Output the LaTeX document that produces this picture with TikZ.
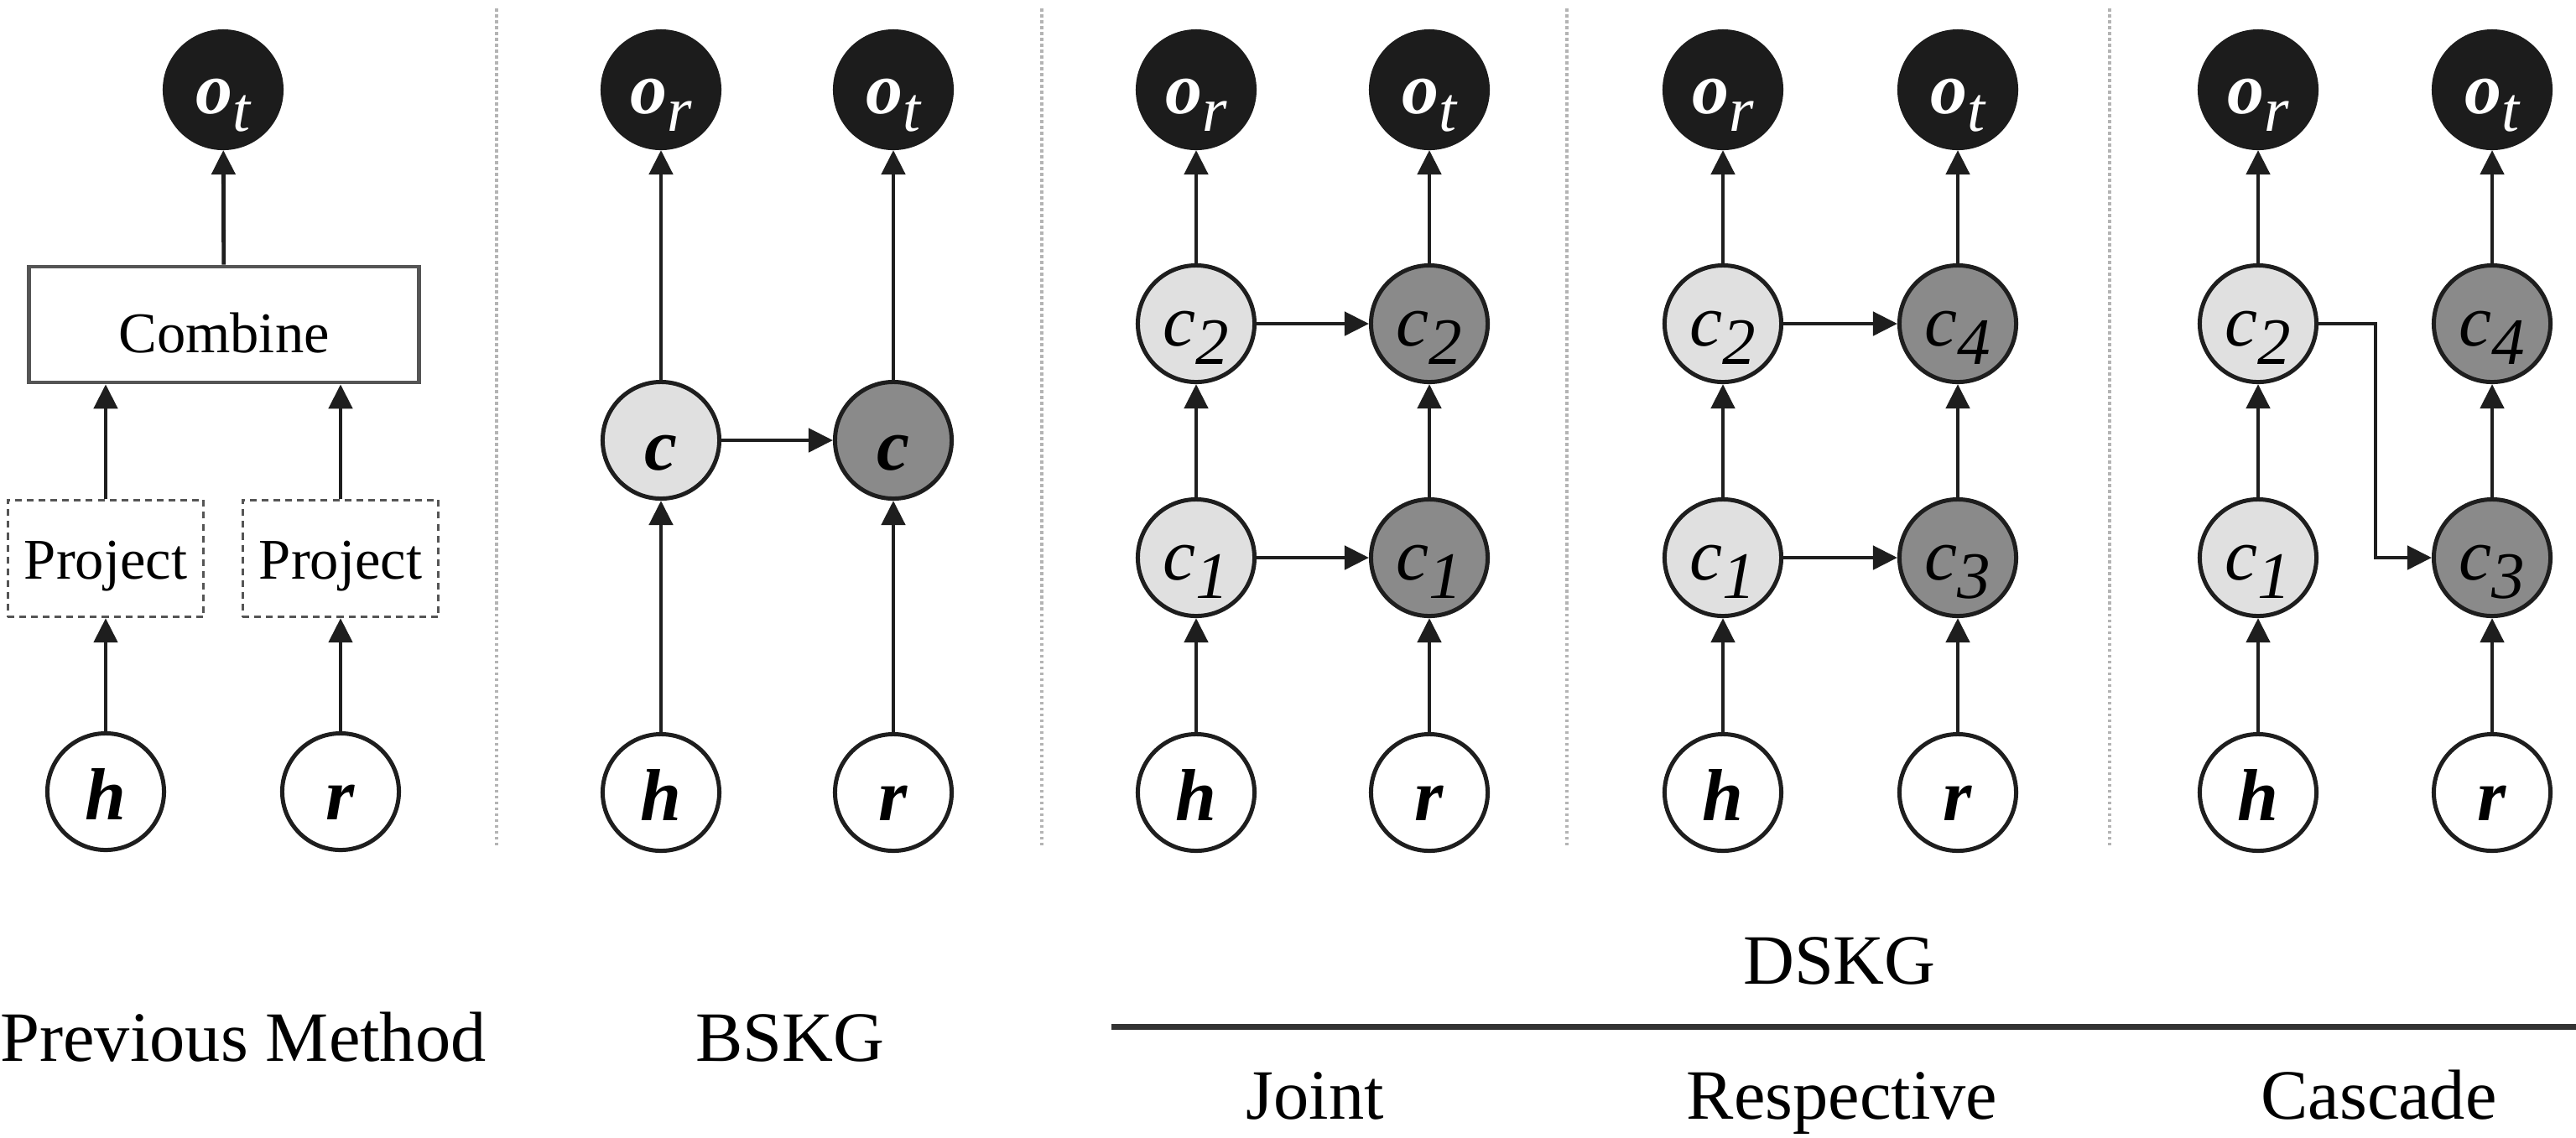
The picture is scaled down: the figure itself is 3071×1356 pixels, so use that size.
\documentclass[tikz,border=0pt]{standalone}
\usepackage{fontspec}
\setmainfont{Liberation Serif}
\usetikzlibrary{arrows.meta}
\definecolor{nodeblack}{HTML}{1C1C1C}
\definecolor{lightfill}{HTML}{E0E0E0}
\definecolor{darkfill}{HTML}{8A8A8A}
\definecolor{linecol}{HTML}{1E1E1E}
\definecolor{sepcol}{HTML}{B4B4B4}
\definecolor{boxcol}{HTML}{555555}
\definecolor{rulecol}{HTML}{333333}
\newcommand{\ovar}[1]{{\bfseries\itshape o}\raisebox{-6pt}{\fontsize{21.5}{21.5}\selectfont\mdseries\itshape #1}}
\newcommand{\cvar}[1]{{\itshape c}\raisebox{-6.5pt}{\fontsize{22.5}{22.5}\selectfont\itshape #1}}
\newcommand{\bvar}[1]{{\bfseries\itshape #1}}
\begin{document}
\begin{tikzpicture}[x=0.01cm,y=-0.01cm,
  every node/.style={font=\fontsize{25}{29}\selectfont},
  vnode/.style={circle,draw=linecol,line width=0.05cm,minimum size=1.39cm,inner sep=0pt,text depth=0pt},
  outnode/.style={vnode,fill=nodeblack,draw=nodeblack,text=white,text height=0.56cm},
  inpnode/.style={vnode,fill=white,text height=0.66cm},
  lightnode/.style={vnode,fill=lightfill,text height=0.52cm},
  darknode/.style={vnode,fill=darkfill,text height=0.52cm},
  conn/.style={line width=0.048cm,draw=linecol,-{Triangle[length=0.29cm,width=0.28cm]}},
  sep/.style={draw=sepcol,line width=0.035cm,dash pattern=on 0.035cm off 0.035cm},
  projbox/.style={draw=boxcol,line width=0.032cm,dash pattern=on 0.08cm off 0.06cm,minimum width=2.33cm,minimum height=1.39cm,inner sep=0pt,font=\fontsize{19.5}{23}\selectfont,text height=0.48cm,text depth=0pt},
  combbox/.style={draw=boxcol,line width=0.045cm,minimum width=4.65cm,minimum height=1.38cm,inner sep=0pt,font=\fontsize{19.5}{23}\selectfont,text height=0.66cm,text depth=0pt},
  lbl/.style={anchor=base,inner sep=0pt,font=\fontsize{24}{29}\selectfont},
]
\useasboundingbox (0,0) rectangle (3071,1356);

% separators
\draw[sep] (592,10) -- (592,1010);
\draw[sep] (1242,10) -- (1242,1010);
\draw[sep] (1868,10) -- (1868,1010);
\draw[sep] (2515,10) -- (2515,1010);

% ---------- Previous method ----------
\node[outnode] (pot) at (266,107) {\ovar{t}};
\node[combbox] (comb) at (267,387) {Combine};
\node[projbox] (pp1) at (126,666) {Project};
\node[projbox] (pp2) at (406,666) {Project};
\node[inpnode] (ph) at (126,944) {\bvar{h}};
\node[inpnode] (pr) at (406,944) {\bvar{r}};
\draw[conn] (ph) -- (pp1);
\draw[conn] (pr) -- (pp2);
\draw[conn] (pp1.north) -- (pp1.north |- comb.south);
\draw[conn] (pp2.north) -- (pp2.north |- comb.south);
\draw[conn] (comb) -- (pot);

% ---------- BSKG ----------
\node[outnode] (bor) at (788,107) {\ovar{r}};
\node[outnode] (bot) at (1065,107) {\ovar{t}};
\node[lightnode,text height=0.7cm] (bcl) at (788,525) {\bvar{c}};
\node[darknode,text height=0.7cm] (bcd) at (1065,525) {\bvar{c}};
\node[inpnode] (bh) at (788,945) {\bvar{h}};
\node[inpnode] (br) at (1065,945) {\bvar{r}};
\draw[conn] (bh) -- (bcl);
\draw[conn] (br) -- (bcd);
\draw[conn] (bcl) -- (bor);
\draw[conn] (bcd) -- (bot);
\draw[conn] (bcl) -- (bcd);

% ---------- Joint ----------
\node[outnode] (jor) at (1426,107) {\ovar{r}};
\node[outnode] (jot) at (1704,107) {\ovar{t}};
\node[lightnode] (jc2l) at (1426,386) {\cvar{2}};
\node[darknode] (jc2d) at (1704,386) {\cvar{2}};
\node[lightnode] (jc1l) at (1426,665) {\cvar{1}};
\node[darknode] (jc1d) at (1704,665) {\cvar{1}};
\node[inpnode] (jh) at (1426,945) {\bvar{h}};
\node[inpnode] (jr) at (1704,945) {\bvar{r}};
\draw[conn] (jh) -- (jc1l);
\draw[conn] (jr) -- (jc1d);
\draw[conn] (jc1l) -- (jc2l);
\draw[conn] (jc1d) -- (jc2d);
\draw[conn] (jc2l) -- (jor);
\draw[conn] (jc2d) -- (jot);
\draw[conn] (jc1l) -- (jc1d);
\draw[conn] (jc2l) -- (jc2d);

% ---------- Respective ----------
\node[outnode] (ror) at (2054,107) {\ovar{r}};
\node[outnode] (rot) at (2334,107) {\ovar{t}};
\node[lightnode] (rc2) at (2054,386) {\cvar{2}};
\node[darknode] (rc4) at (2334,386) {\cvar{4}};
\node[lightnode] (rc1) at (2054,665) {\cvar{1}};
\node[darknode] (rc3) at (2334,665) {\cvar{3}};
\node[inpnode] (rh) at (2054,945) {\bvar{h}};
\node[inpnode] (rr) at (2334,945) {\bvar{r}};
\draw[conn] (rh) -- (rc1);
\draw[conn] (rr) -- (rc3);
\draw[conn] (rc1) -- (rc2);
\draw[conn] (rc3) -- (rc4);
\draw[conn] (rc2) -- (ror);
\draw[conn] (rc4) -- (rot);
\draw[conn] (rc1) -- (rc3);
\draw[conn] (rc2) -- (rc4);

% ---------- Cascade ----------
\node[outnode] (cor) at (2692,107) {\ovar{r}};
\node[outnode] (cot) at (2971,107) {\ovar{t}};
\node[lightnode] (cc2) at (2692,386) {\cvar{2}};
\node[darknode] (cc4) at (2971,386) {\cvar{4}};
\node[lightnode] (cc1) at (2692,665) {\cvar{1}};
\node[darknode] (cc3) at (2971,665) {\cvar{3}};
\node[inpnode] (ch) at (2692,945) {\bvar{h}};
\node[inpnode] (cr) at (2971,945) {\bvar{r}};
\coordinate (cbend) at (2832,386);
\draw[conn] (ch) -- (cc1);
\draw[conn] (cr) -- (cc3);
\draw[conn] (cc1) -- (cc2);
\draw[conn] (cc3) -- (cc4);
\draw[conn] (cc2) -- (cor);
\draw[conn] (cc4) -- (cot);
\draw[conn] (cc2.east) -- (cbend) |- (cc3.west);

% ---------- labels ----------
\node[lbl] (lprev) at (290,1265) {Previous Method};
\node[lbl] (lbskg) at (942,1265) {BSKG};
\node[lbl] (ldskg) at (2193,1173) {DSKG};
\draw[draw=rulecol,line width=0.07cm] (1325,1224) -- (3071,1224);
\node[lbl] (ljoint) at (1568,1334) {Joint};
\node[lbl] (lresp) at (2196,1334) {Respective};
\node[lbl] (lcasc) at (2836,1334) {Cascade};
\end{tikzpicture}
\end{document}
